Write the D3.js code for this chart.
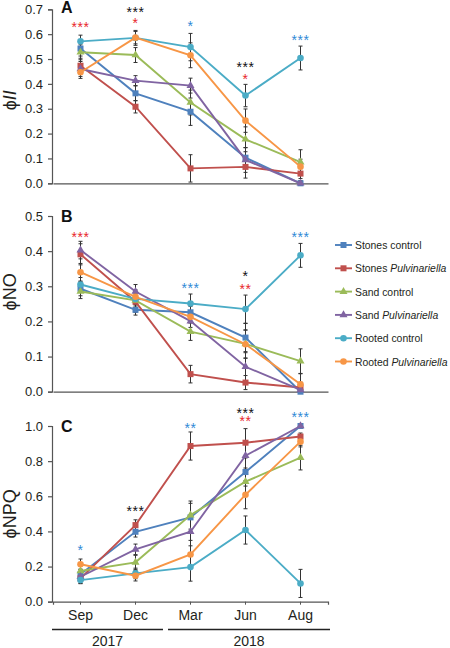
<!DOCTYPE html>
<html><head><meta charset="utf-8">
<script src="https://cdn.jsdelivr.net/npm/d3@7"></script>
<style>body{margin:0;background:#fff}svg{display:block;font-family:Arial,"Liberation Sans",sans-serif}</style>
</head><body>
<svg id="c" width="450" height="648"></svg>
<script>
const months = ["Sep","Dec","Mar","Jun","Aug"];
const years = [{label:"2017", from:0, to:1},{label:"2018", from:2, to:4}];
const seriesNames = ["Stones control","Stones Pulvinariella","Sand control","Sand Pulvinariella","Rooted control","Rooted Pulvinariella"];
const seriesColors = ["#4F81BD","#C0504D","#9BBB59","#8064A2","#4BACC6","#F79646"];
const seriesShapes = ["square","square","triangle","triangle","circle","circle"];

// Panel A: phi II
const phiII = [
  [0.542,0.362,0.288,0.103,0.000],
  [0.473,0.308,0.060,0.066,0.039],
  [0.527,0.516,0.325,0.177,0.085],
  [0.460,0.413,0.393,0.094,0.000],
  [0.571,0.585,0.548,0.353,0.504],
  [0.447,0.586,0.515,0.252,0.067]
];
const phiIIerr = [
  [0.03,0.03,0.055,0.04,0.01],
  [0.03,0.025,0.055,0.045,0.02],
  [0.03,0.03,0.05,0.05,0.05],
  [0.03,0.02,0.03,0.05,0.01],
  [0.025,0.03,0.055,0.045,0.048],
  [0.025,0.025,0.05,0.047,0.03]
];
// Panel B: phi NO
const phiNO = [
  [0.293,0.233,0.226,0.154,0.000],
  [0.391,0.256,0.050,0.026,0.012],
  [0.285,0.260,0.171,0.136,0.087],
  [0.403,0.285,0.201,0.071,0.005],
  [0.305,0.264,0.251,0.235,0.388],
  [0.340,0.270,0.213,0.135,0.021]
];
const phiNOerr = [
  [0.02,0.015,0.03,0.04,0.01],
  [0.03,0.03,0.025,0.02,0.015],
  [0.02,0.02,0.025,0.04,0.035],
  [0.025,0.02,0.03,0.04,0.01],
  [0.02,0.02,0.027,0.04,0.034],
  [0.025,0.02,0.03,0.04,0.03]
];
// Panel C: phi NPQ
const phiNPQ = [
  [0.156,0.398,0.480,0.738,1.000],
  [0.133,0.436,0.886,0.905,0.940],
  [0.175,0.224,0.493,0.683,0.820],
  [0.142,0.298,0.398,0.831,1.000],
  [0.123,0.161,0.197,0.408,0.104],
  [0.213,0.148,0.269,0.609,0.911]
];
const phiNPQerr = [
  [0.03,0.03,0.08,0.08,0.01],
  [0.03,0.03,0.08,0.08,0.02],
  [0.04,0.04,0.08,0.07,0.07],
  [0.03,0.03,0.08,0.07,0.01],
  [0.02,0.03,0.08,0.08,0.08],
  [0.03,0.03,0.08,0.08,0.03]
];
// significance stars: [monthIndex, yValue, text, color]
const RED="#E8262B", BLK="#111", BLU="#2E8AD6";
const starsA = [[0,0.637,"***",RED],[1,0.697,"***",BLK],[1,0.653,"*",RED],[2,0.641,"*",BLU],[3,0.476,"***",BLK],[3,0.428,"*",RED],[4,0.584,"***",BLU]];
const starsB = [[0,0.446,"***",RED],[2,0.302,"***",BLU],[3,0.335,"*",BLK],[3,0.298,"**",RED],[4,0.446,"***",BLU]];
const starsC = [[0,0.304,"*",BLU],[1,0.53,"***",BLK],[2,1.001,"**",BLU],[3,1.086,"***",BLK],[3,1.039,"**",RED],[4,1.064,"***",BLU]];

const ticksA = [0,0.1,0.2,0.3,0.4,0.5,0.6,0.7];
const ticksB = [0,0.1,0.2,0.3,0.4,0.5];
const ticksC = [0,0.2,0.4,0.6,0.8,1.0];

const svg = d3.select("#c");
const x = d3.scaleBand().domain(months).range([53,328]).padding(0);
const xc = m => x(m) + x.bandwidth()/2;
const textCol = "#231f20";

const panels = [
  {label:"A", data:phiII, err:phiIIerr, stars:starsA, ticks:ticksA, max:0.7, top:9.3, bottom:183.3, title:[["ϕ","normal"],["II","italic"]], fmt:d3.format(".1f")},
  {label:"B", data:phiNO, err:phiNOerr, stars:starsB, ticks:ticksB, max:0.5, top:216, bottom:391.7, title:[["ϕNO","normal"]], fmt:d3.format(".1f")},
  {label:"C", data:phiNPQ, err:phiNPQerr, stars:starsC, ticks:ticksC, max:1.0, top:426, bottom:601.7, title:[["ϕNPQ","normal"]], fmt:d3.format(".1f")}
];

function drawMarker(g, shape, cx, cy, color){
  if(shape==="square"){
    g.append("rect").attr("x",cx-3).attr("y",cy-3).attr("width",6).attr("height",6).attr("fill",color);
  } else if(shape==="triangle"){
    g.append("path").attr("d",d3.symbol(d3.symbolTriangle,28)()).attr("transform",`translate(${cx},${cy})`).attr("fill",color);
  } else {
    g.append("circle").attr("cx",cx).attr("cy",cy).attr("r",3.3).attr("fill",color);
  }
}

panels.forEach((p,pi)=>{
  const y = d3.scaleLinear().domain([0,p.max]).range([p.bottom,p.top]);
  const g = svg.append("g");
  const ax = g.append("g").attr("transform","translate(52,0)")
    .call(d3.axisLeft(y).tickValues(p.ticks).tickFormat(p.fmt).tickSize(4).tickPadding(5));
  ax.select(".domain").attr("stroke","#555").attr("stroke-width",1.2);
  ax.selectAll(".tick line").attr("stroke","#555").attr("stroke-width",1.2);
  ax.selectAll("text").attr("font-size",13).attr("fill",textCol);
  const xa = g.append("g").attr("transform",`translate(0,${p.bottom})`)
    .call(d3.axisBottom(x).tickSize(pi===2?3:0).tickFormat(pi===2? d=>d : ()=>""));
  xa.select(".domain").attr("stroke","#555").attr("stroke-width",1.2);
  xa.selectAll(".tick line").attr("stroke","#555");
  xa.selectAll("text").attr("font-size",14).attr("fill",textCol).attr("dy","0.9em");
  g.append("text").attr("x",61).attr("y",y(p.max)+ (pi===0?4:6)).attr("font-size",16).attr("font-weight","bold").attr("fill","#111").text(p.label);
  const t = g.append("text").attr("transform",`translate(16,${(p.top+p.bottom)/2 + (pi===0?4:(pi===1?-12:0))}) rotate(-90)`)
    .attr("text-anchor","middle").attr("font-size",18).attr("fill",textCol);
  p.title.forEach(([s,st])=> t.append("tspan").attr("font-style",st).text(s));
  p.data.forEach((vals,si)=>{
    vals.forEach((v,i)=>{
      const e = p.err[si][i];
      const cx = xc(months[i]);
      const y1 = y(Math.max(0,v-e)), y2 = y(v+e);
      g.append("line").attr("x1",cx).attr("x2",cx).attr("y1",y1).attr("y2",y2).attr("stroke","#333").attr("stroke-width",1);
      [y1,y2].forEach(yy=> g.append("line").attr("x1",cx-2).attr("x2",cx+2).attr("y1",yy).attr("y2",yy).attr("stroke","#333").attr("stroke-width",1));
    });
  });
  const line = d3.line().x((d,i)=>xc(months[i])).y(d=>y(d));
  p.data.forEach((vals,si)=>{
    const sg = g.append("g");
    sg.append("path").attr("d",line(vals)).attr("fill","none").attr("stroke",seriesColors[si]).attr("stroke-width",1.9);
    vals.forEach((v,i)=> drawMarker(sg, seriesShapes[si], xc(months[i]), y(v), seriesColors[si]));
  });
  p.stars.forEach(([mi,v,txt,col])=>{
    g.append("text").attr("x",xc(months[mi])).attr("y",y(v)+7).attr("text-anchor","middle")
      .attr("font-size",14).attr("letter-spacing",0.5).attr("fill",col).text(txt);
  });
});

// year brackets
const yearG = svg.append("g");
years.forEach((yr,i)=>{
  const x1 = i===0 ? x(months[yr.from]) - 1 : x(months[yr.from]) + 5;
  const x2 = i===0 ? x(months[yr.to]) + x.bandwidth() : x(months[yr.to]) + x.bandwidth() + 2;
  yearG.append("line").attr("x1",x1).attr("x2",x2).attr("y1",629.5).attr("y2",629.5).attr("stroke","#222").attr("stroke-width",1.3);
  yearG.append("text").attr("x",(x1+x2)/2).attr("y",646).attr("text-anchor","middle").attr("font-size",14).attr("fill",textCol).text(yr.label);
});

// legend
const lg = svg.append("g");
seriesNames.forEach((n,i)=>{
  const yy = 245 + i*23.3;
  lg.append("line").attr("x1",335).attr("x2",352).attr("y1",yy).attr("y2",yy).attr("stroke",seriesColors[i]).attr("stroke-width",1.9);
  drawMarker(lg, seriesShapes[i], 343.5, yy, seriesColors[i]);
  const t = lg.append("text").attr("x",355).attr("y",yy+4).attr("font-size",10.4).attr("fill",textCol);
  const parts = n.split(" ");
  t.append("tspan").text(parts[0]+" ");
  t.append("tspan").attr("font-style", parts[1]==="Pulvinariella"?"italic":"normal").text(parts[1]);
});
</script>
</body></html>
